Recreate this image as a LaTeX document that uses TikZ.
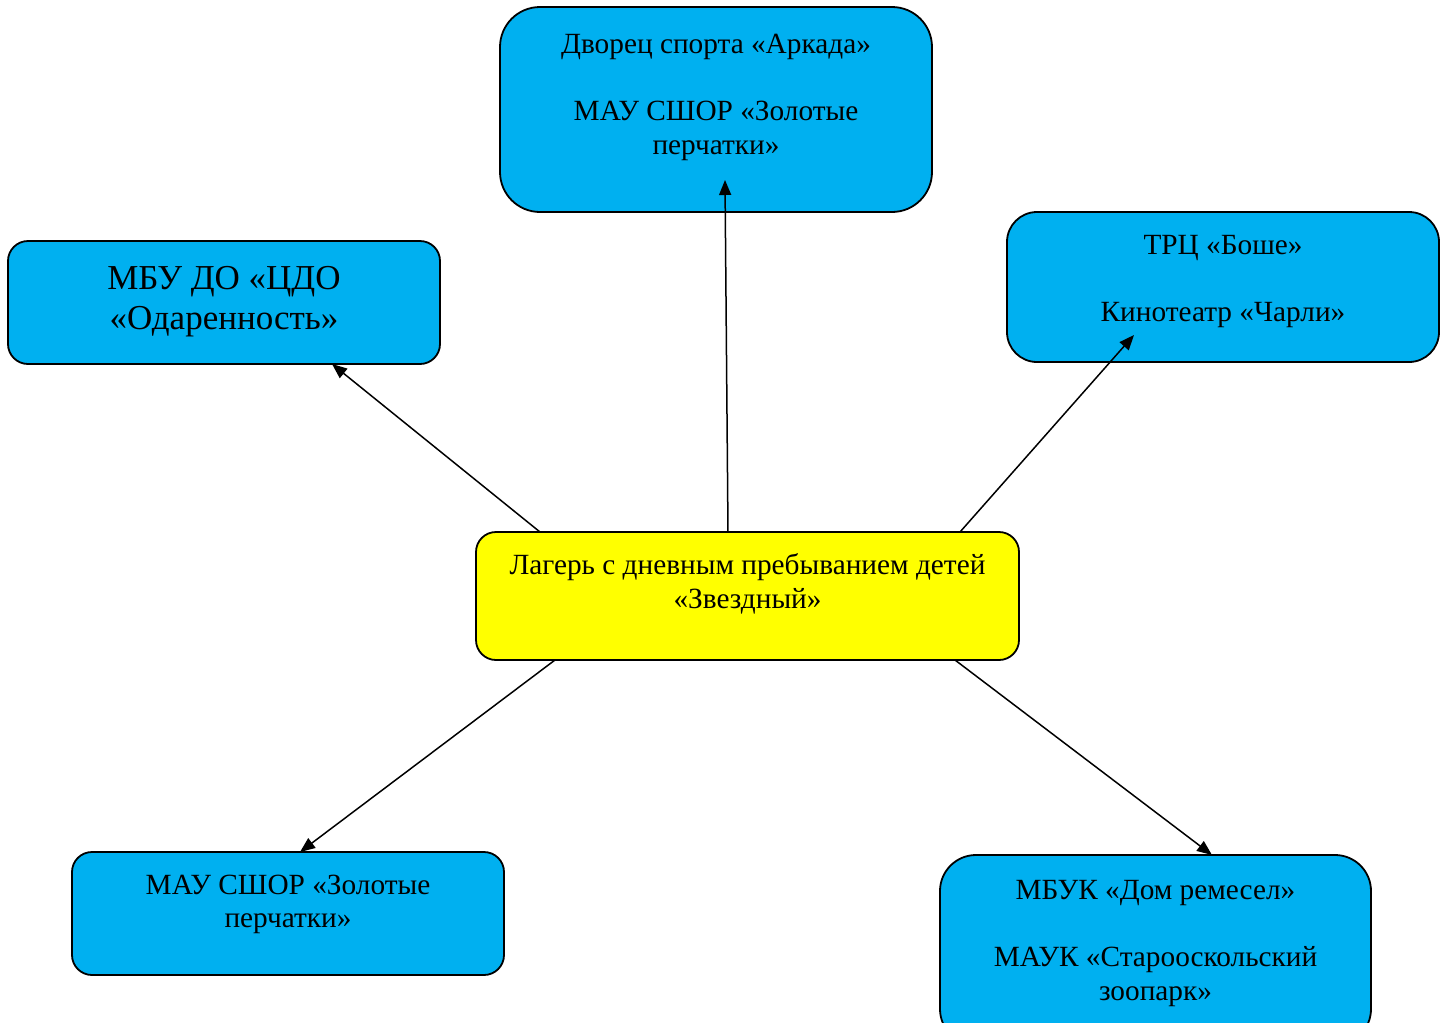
\documentclass[tikz,border=0pt]{standalone}
\usepackage{fontspec}
\setmainfont{Liberation Serif}
\usetikzlibrary{arrows.meta}
\definecolor{boxblue}{HTML}{00B0F0}
\definecolor{boxyellow}{HTML}{FFFF00}
\begin{document}
\begin{tikzpicture}[x=1pt,y=-1pt,
  box/.style={draw=black, line width=1.8pt, fill=boxblue, inner sep=0pt, outer sep=0pt},
  txt/.style={align=center, inner sep=0pt, font=\fontsize{29.3}{33.5}\selectfont},
  bigtxt/.style={align=center, inner sep=0pt, font=\fontsize{35}{40}\selectfont},
  arr/.style={draw=black, line width=1.5pt, -{Triangle[length=15pt,width=12pt]}}]
\clip (0,0) rectangle (1449,1023);
\fill[white] (0,0) rectangle (1449,1023);
% boxes
\node[box, rounded corners=40pt, minimum width=432pt, minimum height=205pt] (t) at (716,109.5) {};
\node[box, rounded corners=20pt, minimum width=432pt, minimum height=123pt] (lb) at (224,302.5) {};
\node[box, rounded corners=30pt, minimum width=432pt, minimum height=150pt] (rb) at (1223,287) {};
\node[box, fill=boxyellow, rounded corners=20pt, minimum width=543pt, minimum height=128pt] (c) at (747.5,596) {};
\node[box, rounded corners=20pt, minimum width=432pt, minimum height=123pt] (bl) at (288,913.5) {};
\node[box, rounded corners=36pt, minimum width=431pt, minimum height=190pt] (br) at (1155.5,950) {};
% texts
\node[txt] (tt) at (716,97.5) {Дворец спорта «Аркада»\\[33.5pt]МАУ СШОР «Золотые\\перчатки»};
\node[bigtxt] (lbt) at (224,301.5) {МБУ ДО «ЦДО\\«Одаренность»};
\node[txt] (rbt) at (1223,282) {ТРЦ «Боше»\\[33.5pt]Кинотеатр «Чарли»};
\node[txt] (ct) at (747.5,584) {Лагерь с дневным пребыванием детей\\«Звездный»};
\node[txt] (blt) at (288,904.5) {МАУ СШОР «Золотые\\перчатки»};
\node[txt] (brt) at (1155.5,943.5) {МБУК «Дом ремесел»\\[33.5pt]МАУК «Старооскольский\\зоопарк»};
% arrow ends
\coordinate (eL) at ([xshift=324pt]lb.south west);
\coordinate (eT) at ([xshift=225pt,yshift=32pt]t.south west);
\coordinate (eR) at ([xshift=127pt,yshift=27pt]rb.south west);
\coordinate (eBL) at ([xshift=228pt]bl.north west);
\coordinate (eBR) at ([xshift=272pt]br.north west);
% connectors
\draw[arr] ([xshift=64pt]c.north west) -- (eL);
\draw[arr] ([xshift=252pt]c.north west) -- (eT);
\draw[arr] ([xshift=484pt]c.north west) -- (eR);
\draw[arr] ([xshift=79pt]c.south west) -- (eBL);
\draw[arr] ([xshift=479pt]c.south west) -- (eBR);
\end{tikzpicture}
\end{document}
